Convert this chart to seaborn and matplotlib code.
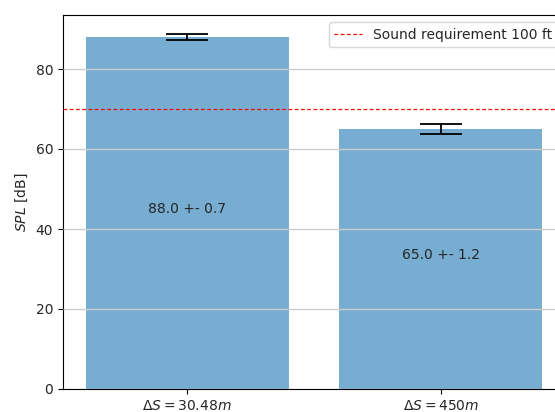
import numpy as np
import matplotlib
matplotlib.use('Agg')
import matplotlib.pyplot as plt
import seaborn as sns

# values
distances = [r'$\Delta S = 30.48m$', r'$\Delta S = 450m$']
spl_mean = [88.0, 65.0]
spl_err = [0.7, 1.2]
requirement = 70
req_label = 'Sound requirement 100 ft'

sns.set_style('white')
plt.rcParams['font.family'] = ['DejaVu Sans']
plt.rcParams['font.size'] = 10

fig = plt.figure(figsize=(5.55, 4.12), dpi=100)
# the original was cropped on the right: axes run past the figure edge
ax = fig.add_axes([63 / 555, 23 / 412, 502 / 555, 374 / 412])

xpos = np.arange(len(distances))
sns.barplot(x=xpos, y=spl_mean, color='C0', alpha=0.6, saturation=1,
            width=0.8, ax=ax, linewidth=0, edgecolor='none', zorder=1)
ax.errorbar(xpos, spl_mean, yerr=spl_err, fmt='none', ecolor='black',
            capsize=15, elinewidth=1.3, capthick=1.3, zorder=4)

for x, m, e in zip(xpos, spl_mean, spl_err):
    ax.text(x, m / 2, f'{m:.1f} +- {e:.1f}', ha='center', zorder=5)

ax.axhline(requirement, color='#ff0000', linestyle=(0, (3, 2)), linewidth=0.9,
           label=req_label, zorder=4)

ax.set_xticks(xpos)
ax.set_xticklabels(distances)
ax.set_xlim(-0.49, 1.49)
ax.set_ylim(0, 93.5)
ax.set_yticks([0, 20, 40, 60, 80])
ax.set_ylabel(r'$SPL$ [dB]')
ax.set_axisbelow(False)
ax.yaxis.grid(True, color='#cccccc', linewidth=1.0, zorder=3)
ax.tick_params(axis='both', which='major', length=3.5, width=0.8, direction='out',
               bottom=True, left=True, color='black')
for s in ax.spines.values():
    s.set_color('black')
    s.set_linewidth(0.8)
ax.legend(loc='upper right', fontsize=10)

fig.savefig('out.png', dpi=100)
